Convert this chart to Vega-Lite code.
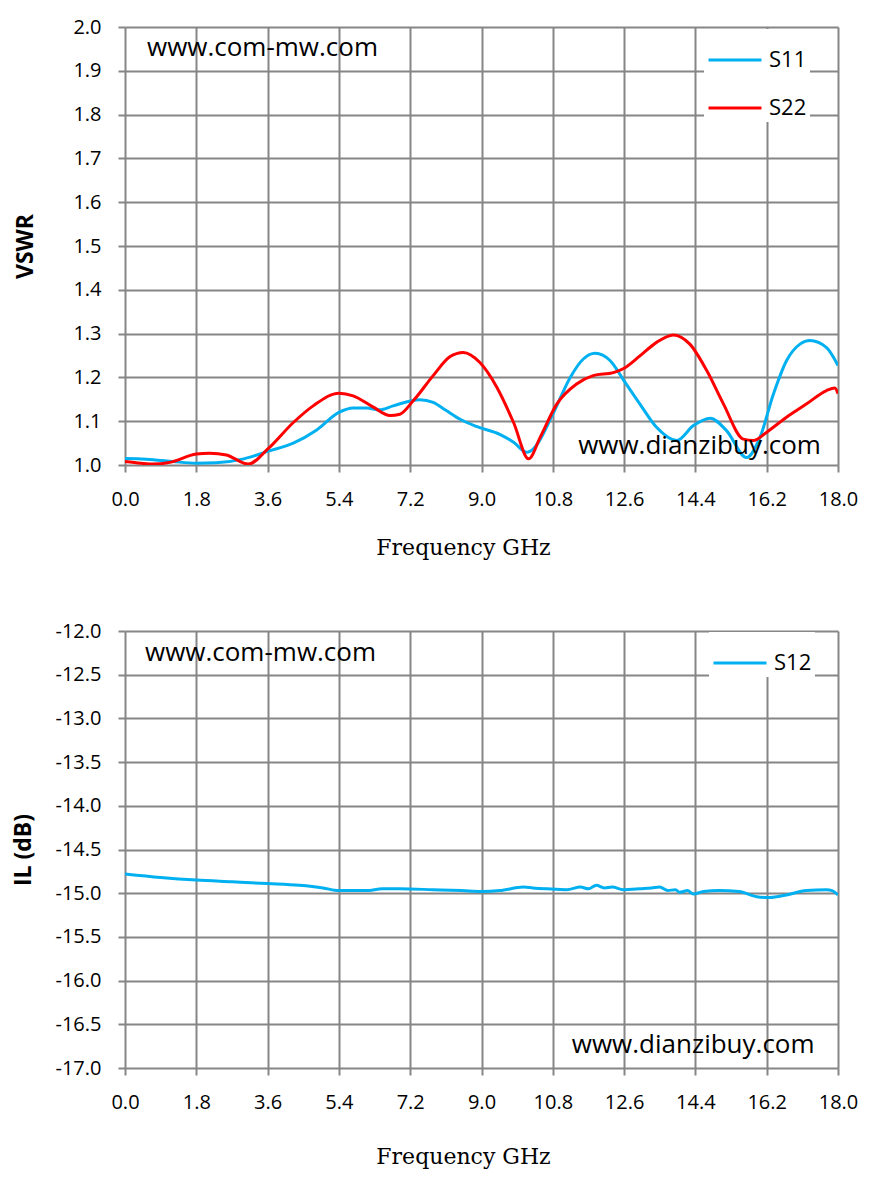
{
  "$schema": "https://vega.github.io/schema/vega-lite/v6.json",
  "background": "white",
  "padding": {"left": 12, "top": 17, "right": 5, "bottom": 5},
  "spacing": 63,
  "config": {
    "view": {"stroke": null},
    "axis": {
      "gridColor": "#868686",
      "gridWidth": 2,
      "gridOpacity": 1,
      "tickColor": "#868686",
      "tickWidth": 2,
      "tickSize": 7,
      "domain": false,
      "labelFont": "Open Sans",
      "labelFontSize": 20,
      "labelColor": "black",
      "titleColor": "black"
    },
    "axisX": {
      "labelPadding": 17,
      "labelFlush": false,
      "titleFont": "DejaVu Serif",
      "titleFontSize": 22,
      "titleFontWeight": "normal",
      "titlePadding": 28,
      "titleX": 338
    },
    "axisY": {
      "labelPadding": 17,
      "titleFont": "Open Sans",
      "titleFontSize": 23,
      "titleFontWeight": "bold"
    },
    "legend": {
      "orient": "none",
      "title": null,
      "fillColor": "white",
      "padding": 3,
      "symbolType": "stroke",
      "symbolStrokeWidth": 3,
      "symbolSize": 2809,
      "labelFont": "Open Sans",
      "labelFontSize": 22,
      "labelColor": "black",
      "labelOffset": 6,
      "rowPadding": 9
    }
  },
  "datasets": {
    "vswr": [
      {"freq": 0, "value": 1.015, "series": "S11"},
      {"freq": 0.3, "value": 1.014, "series": "S11"},
      {"freq": 0.71, "value": 1.012, "series": "S11"},
      {"freq": 1.2, "value": 1.008, "series": "S11"},
      {"freq": 1.8, "value": 1.004, "series": "S11"},
      {"freq": 2.3, "value": 1.005, "series": "S11"},
      {"freq": 3.0, "value": 1.014, "series": "S11"},
      {"freq": 3.6, "value": 1.031, "series": "S11"},
      {"freq": 4.25, "value": 1.05, "series": "S11"},
      {"freq": 4.84, "value": 1.08, "series": "S11"},
      {"freq": 5.4, "value": 1.12, "series": "S11"},
      {"freq": 5.76, "value": 1.13, "series": "S11"},
      {"freq": 6.1, "value": 1.13, "series": "S11"},
      {"freq": 6.43, "value": 1.126, "series": "S11"},
      {"freq": 6.77, "value": 1.135, "series": "S11"},
      {"freq": 7.44, "value": 1.149, "series": "S11"},
      {"freq": 7.78, "value": 1.143, "series": "S11"},
      {"freq": 8.1, "value": 1.125, "series": "S11"},
      {"freq": 8.45, "value": 1.105, "series": "S11"},
      {"freq": 8.87, "value": 1.088, "series": "S11"},
      {"freq": 9.46, "value": 1.07, "series": "S11"},
      {"freq": 9.81, "value": 1.052, "series": "S11"},
      {"freq": 10.14, "value": 1.029, "series": "S11"},
      {"freq": 10.31, "value": 1.037, "series": "S11"},
      {"freq": 10.8, "value": 1.116, "series": "S11"},
      {"freq": 11.24, "value": 1.2, "series": "S11"},
      {"freq": 11.57, "value": 1.242, "series": "S11"},
      {"freq": 11.87, "value": 1.255, "series": "S11"},
      {"freq": 12.25, "value": 1.238, "series": "S11"},
      {"freq": 12.6, "value": 1.192, "series": "S11"},
      {"freq": 13.0, "value": 1.139, "series": "S11"},
      {"freq": 13.42, "value": 1.086, "series": "S11"},
      {"freq": 13.93, "value": 1.056, "series": "S11"},
      {"freq": 14.35, "value": 1.09, "series": "S11"},
      {"freq": 14.77, "value": 1.107, "series": "S11"},
      {"freq": 15.19, "value": 1.078, "series": "S11"},
      {"freq": 15.69, "value": 1.017, "series": "S11"},
      {"freq": 16.03, "value": 1.063, "series": "S11"},
      {"freq": 16.37, "value": 1.162, "series": "S11"},
      {"freq": 16.7, "value": 1.238, "series": "S11"},
      {"freq": 17.04, "value": 1.276, "series": "S11"},
      {"freq": 17.29, "value": 1.284, "series": "S11"},
      {"freq": 17.71, "value": 1.268, "series": "S11"},
      {"freq": 18.0, "value": 1.227, "series": "S11"},
      {"freq": 0, "value": 1.008, "series": "S22"},
      {"freq": 0.4, "value": 1.004, "series": "S22"},
      {"freq": 0.71, "value": 1.002, "series": "S22"},
      {"freq": 1.13, "value": 1.006, "series": "S22"},
      {"freq": 1.8, "value": 1.025, "series": "S22"},
      {"freq": 2.14, "value": 1.027, "series": "S22"},
      {"freq": 2.56, "value": 1.023, "series": "S22"},
      {"freq": 3.11, "value": 1.002, "series": "S22"},
      {"freq": 3.6, "value": 1.036, "series": "S22"},
      {"freq": 4.25, "value": 1.097, "series": "S22"},
      {"freq": 4.75, "value": 1.135, "series": "S22"},
      {"freq": 5.4, "value": 1.164, "series": "S22"},
      {"freq": 5.76, "value": 1.158, "series": "S22"},
      {"freq": 6.27, "value": 1.132, "series": "S22"},
      {"freq": 6.69, "value": 1.113, "series": "S22"},
      {"freq": 6.94, "value": 1.116, "series": "S22"},
      {"freq": 7.28, "value": 1.147, "series": "S22"},
      {"freq": 7.78, "value": 1.204, "series": "S22"},
      {"freq": 8.2, "value": 1.247, "series": "S22"},
      {"freq": 8.54, "value": 1.257, "series": "S22"},
      {"freq": 8.96, "value": 1.234, "series": "S22"},
      {"freq": 9.39, "value": 1.177, "series": "S22"},
      {"freq": 9.81, "value": 1.097, "series": "S22"},
      {"freq": 10.19, "value": 1.014, "series": "S22"},
      {"freq": 10.48, "value": 1.063, "series": "S22"},
      {"freq": 10.9, "value": 1.139, "series": "S22"},
      {"freq": 11.4, "value": 1.185, "series": "S22"},
      {"freq": 11.82, "value": 1.204, "series": "S22"},
      {"freq": 12.33, "value": 1.211, "series": "S22"},
      {"freq": 12.6, "value": 1.221, "series": "S22"},
      {"freq": 13.0, "value": 1.249, "series": "S22"},
      {"freq": 13.42, "value": 1.28, "series": "S22"},
      {"freq": 13.84, "value": 1.297, "series": "S22"},
      {"freq": 14.26, "value": 1.276, "series": "S22"},
      {"freq": 14.69, "value": 1.215, "series": "S22"},
      {"freq": 15.11, "value": 1.139, "series": "S22"},
      {"freq": 15.61, "value": 1.059, "series": "S22"},
      {"freq": 15.86, "value": 1.056, "series": "S22"},
      {"freq": 16.2, "value": 1.075, "series": "S22"},
      {"freq": 16.7, "value": 1.109, "series": "S22"},
      {"freq": 17.2, "value": 1.139, "series": "S22"},
      {"freq": 17.71, "value": 1.17, "series": "S22"},
      {"freq": 17.92, "value": 1.176, "series": "S22"},
      {"freq": 18.0, "value": 1.163, "series": "S22"}
    ],
    "il": [
      {"freq": 0, "value": -14.78, "series": "S12"},
      {"freq": 0.9, "value": -14.82, "series": "S12"},
      {"freq": 1.8, "value": -14.85, "series": "S12"},
      {"freq": 2.7, "value": -14.87, "series": "S12"},
      {"freq": 3.6, "value": -14.89, "series": "S12"},
      {"freq": 4.4, "value": -14.91, "series": "S12"},
      {"freq": 5.0, "value": -14.94, "series": "S12"},
      {"freq": 5.4, "value": -14.97, "series": "S12"},
      {"freq": 6.1, "value": -14.97, "series": "S12"},
      {"freq": 6.5, "value": -14.95, "series": "S12"},
      {"freq": 6.94, "value": -14.95, "series": "S12"},
      {"freq": 7.78, "value": -14.96, "series": "S12"},
      {"freq": 8.5, "value": -14.97, "series": "S12"},
      {"freq": 9.0, "value": -14.98, "series": "S12"},
      {"freq": 9.46, "value": -14.97, "series": "S12"},
      {"freq": 10.06, "value": -14.93, "series": "S12"},
      {"freq": 10.3, "value": -14.94, "series": "S12"},
      {"freq": 10.65, "value": -14.95, "series": "S12"},
      {"freq": 11.15, "value": -14.96, "series": "S12"},
      {"freq": 11.5, "value": -14.93, "series": "S12"},
      {"freq": 11.7, "value": -14.95, "series": "S12"},
      {"freq": 11.9, "value": -14.91, "series": "S12"},
      {"freq": 12.1, "value": -14.94, "series": "S12"},
      {"freq": 12.3, "value": -14.93, "series": "S12"},
      {"freq": 12.58, "value": -14.96, "series": "S12"},
      {"freq": 13.0, "value": -14.95, "series": "S12"},
      {"freq": 13.3, "value": -14.94, "series": "S12"},
      {"freq": 13.5, "value": -14.93, "series": "S12"},
      {"freq": 13.7, "value": -14.97, "series": "S12"},
      {"freq": 13.9, "value": -14.96, "series": "S12"},
      {"freq": 14.0, "value": -14.99, "series": "S12"},
      {"freq": 14.2, "value": -14.97, "series": "S12"},
      {"freq": 14.35, "value": -15.01, "series": "S12"},
      {"freq": 14.6, "value": -14.98, "series": "S12"},
      {"freq": 15.0, "value": -14.97, "series": "S12"},
      {"freq": 15.5, "value": -14.98, "series": "S12"},
      {"freq": 15.95, "value": -15.04, "series": "S12"},
      {"freq": 16.28, "value": -15.05, "series": "S12"},
      {"freq": 16.7, "value": -15.02, "series": "S12"},
      {"freq": 17.2, "value": -14.97, "series": "S12"},
      {"freq": 17.71, "value": -14.96, "series": "S12"},
      {"freq": 17.85, "value": -14.97, "series": "S12"},
      {"freq": 18.0, "value": -15.02, "series": "S12"}
    ],
    "notesTop": [
      {"freq": 0.555, "value": 1.952, "label": "www.com-mw.com"},
      {"freq": 11.44, "value": 1.043, "label": "www.dianzibuy.com"}
    ],
    "notesBottom": [
      {"freq": 0.505, "value": -12.25, "label": "www.com-mw.com"},
      {"freq": 11.28, "value": -16.74, "label": "www.dianzibuy.com"}
    ]
  },
  "vconcat": [
    {
      "width": 713,
      "height": 438,
      "layer": [
        {
          "data": {"name": "vswr"},
          "mark": {"type": "line", "strokeWidth": 3, "interpolate": "monotone", "clip": true},
          "encoding": {
            "x": {
              "field": "freq", "type": "quantitative",
              "scale": {"domain": [0, 18], "nice": false, "zero": false},
              "axis": {"values": [0, 1.8, 3.6, 5.4, 7.2, 9.0, 10.8, 12.6, 14.4, 16.2, 18.0], "format": ".1f", "title": "Frequency GHz"}
            },
            "y": {
              "field": "value", "type": "quantitative",
              "scale": {"domain": [1.0, 2.0], "nice": false, "zero": false},
              "axis": {"values": [1.0, 1.1, 1.2, 1.3, 1.4, 1.5, 1.6, 1.7, 1.8, 1.9, 2.0], "format": ".1f", "title": "VSWR", "titlePadding": 35}
            },
            "color": {
              "field": "series", "type": "nominal",
              "scale": {"domain": ["S11", "S22"], "range": ["#00B0F0", "#FF0000"]},
              "legend": {"legendX": 579, "legendY": 2}
            }
          }
        },
        {
          "data": {"name": "notesTop"},
          "mark": {"type": "text", "align": "left", "baseline": "middle", "font": "Open Sans", "fontSize": 26, "color": "black"},
          "encoding": {
            "x": {"field": "freq", "type": "quantitative"},
            "y": {"field": "value", "type": "quantitative"},
            "text": {"field": "label"}
          }
        }
      ]
    },
    {
      "width": 713,
      "height": 437,
      "layer": [
        {
          "data": {"name": "il"},
          "mark": {"type": "line", "strokeWidth": 3, "interpolate": "monotone", "clip": true},
          "encoding": {
            "x": {
              "field": "freq", "type": "quantitative",
              "scale": {"domain": [0, 18], "nice": false, "zero": false},
              "axis": {"values": [0, 1.8, 3.6, 5.4, 7.2, 9.0, 10.8, 12.6, 14.4, 16.2, 18.0], "format": ".1f", "title": "Frequency GHz", "titlePadding": 34}
            },
            "y": {
              "field": "value", "type": "quantitative",
              "scale": {"domain": [-17, -12], "nice": false, "zero": false},
              "axis": {
                "values": [-17, -16.5, -16, -15.5, -15, -14.5, -14, -13.5, -13, -12.5, -12],
                "format": ".1f",
                "labelExpr": "replace(datum.label, '\u2212', '-')",
                "title": "IL (dB)",
                "titlePadding": 20
              }
            },
            "color": {
              "field": "series", "type": "nominal",
              "scale": {"domain": ["S12"], "range": ["#00B0F0"]},
              "legend": {"legendX": 584, "legendY": 1}
            }
          }
        },
        {
          "data": {"name": "notesBottom"},
          "mark": {"type": "text", "align": "left", "baseline": "middle", "font": "Open Sans", "fontSize": 26, "color": "black"},
          "encoding": {
            "x": {"field": "freq", "type": "quantitative"},
            "y": {"field": "value", "type": "quantitative"},
            "text": {"field": "label"}
          }
        }
      ]
    }
  ],
  "resolve": {"scale": {"color": "independent"}, "legend": {"color": "independent"}}
}
